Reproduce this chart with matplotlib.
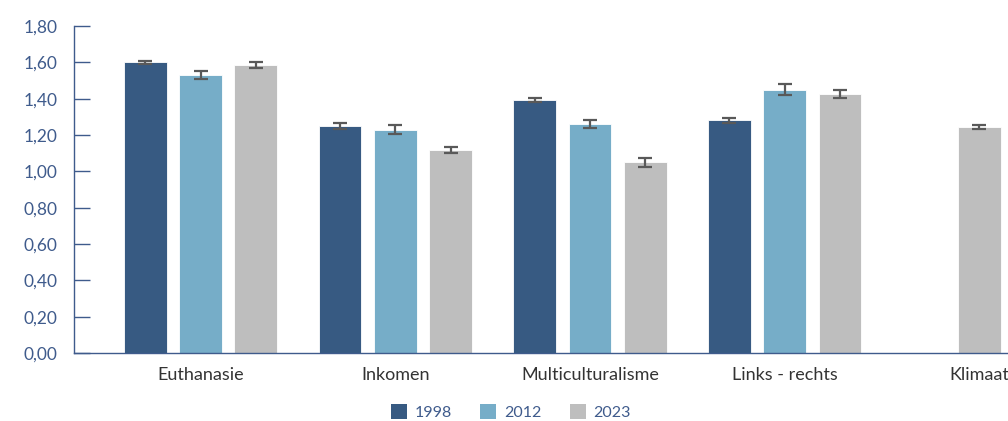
import numpy as np
import matplotlib.pyplot as plt
from matplotlib.patches import Patch

categories = ['Euthanasie', 'Inkomen', 'Multiculturalisme', 'Links - rechts', 'Klimaat']
years = ['1998', '2012', '2023']
values_1998 = [1.60, 1.25, 1.395, 1.28, np.nan]
values_2012 = [1.53, 1.23, 1.26, 1.45, np.nan]
values_2023 = [1.585, 1.117, 1.05, 1.425, 1.243]
err_1998 = [0.010, 0.015, 0.011, 0.012, np.nan]
err_2012 = [0.020, 0.025, 0.020, 0.030, np.nan]
err_2023 = [0.017, 0.017, 0.025, 0.021, 0.010]
colors = ['#375a82', '#76adc8', '#bebebe']

text_color = '#3f5b8c'
plt.rcParams['font.family'] = ['Lato', 'DejaVu Sans']

fig = plt.figure(figsize=(10.08, 4.21), dpi=100)
ax = fig.add_axes([74 / 1008, 68 / 421, 1 - 74 / 1008, 327 / 421])

x = np.arange(len(categories))
width = 0.22
step = 0.284
series = [values_1998, values_2012, values_2023]
errors = [err_1998, err_2012, err_2023]
for i in range(3):
    for j in range(len(categories)):
        v = series[i][j]
        if np.isnan(v):
            continue
        # single bar in a group sits in the middle
        n = sum(not np.isnan(s[j]) for s in series)
        pos = x[j] + (i - 1) * step if n == 3 else x[j]
        ax.bar(pos, v, width=width, color=colors[i], edgecolor='white', linewidth=0.6)
        ax.errorbar(pos, v, yerr=errors[i][j], color='#595959', capsize=5,
                    elinewidth=1.6, capthick=1.6, fmt='none')

ax.set_ylim(0, 1.8)
ax.set_xlim(-0.65, 4.147)
ax.set_yticks(np.arange(0, 1.81, 0.2))
ax.set_yticklabels([f'{t:.2f}'.replace('.', ',') for t in np.arange(0, 1.81, 0.2)])
ax.set_xticks(x)
ax.set_xticklabels(categories)

for s in ['top', 'right']:
    ax.spines[s].set_visible(False)
for s in ['left', 'bottom']:
    ax.spines[s].set_color(text_color)
    ax.spines[s].set_linewidth(1.0)
ax.tick_params(axis='y', direction='in', length=11.5, width=1.0, color=text_color,
               labelcolor=text_color, labelsize=12.5, pad=12)
ax.tick_params(axis='x', length=0, labelcolor='#333333', labelsize=13, pad=10)

handles = [Patch(facecolor=c, edgecolor='none') for c in colors]
fig.legend(handles, years, loc='center', bbox_to_anchor=(0.507, 0.021), ncol=3,
           frameon=False, fontsize=11.5, labelcolor=text_color,
           handlelength=1.0, handleheight=1.0, handletextpad=0.5, columnspacing=1.75)

fig.savefig('out.png', dpi=100)
